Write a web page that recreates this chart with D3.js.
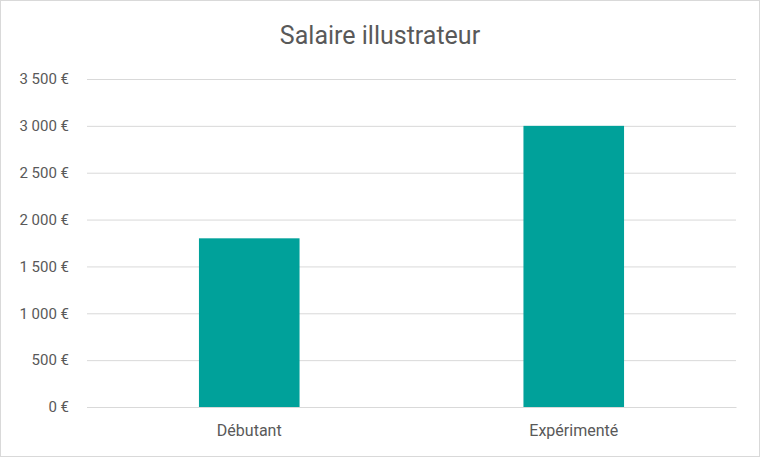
<!DOCTYPE html>
<html>
<head>
<meta charset="utf-8">
<script src="https://cdn.jsdelivr.net/npm/d3@7"></script>
<style>
  body { margin: 0; background: #fff; }
  svg { display: block; font-family: Roboto, "Open Sans", sans-serif; }
</style>
</head>
<body>
<svg id="chart"></svg>
<script>
const categories = ["Débutant", "Expérimenté"];
const salaries = [1800, 3000];
const yTicks = [0, 500, 1000, 1500, 2000, 2500, 3000, 3500];

const W = 760, H = 457;
const margin = {top: 79, right: 24, bottom: 50, left: 87};
const width = W - margin.left - margin.right;
const height = H - margin.top - margin.bottom;

const svg = d3.select("#chart").attr("width", W).attr("height", H);

// chart border
svg.append("rect")
  .attr("x", 0.5).attr("y", 0.5)
  .attr("width", W - 1).attr("height", H - 1)
  .attr("fill", "#fff")
  .attr("stroke", "#d9d9d9");

svg.append("text")
  .attr("x", W / 2).attr("y", 44)
  .attr("text-anchor", "middle")
  .attr("font-size", 25)
  .attr("fill", "#595959")
  .text("Salaire illustrateur");

const g = svg.append("g")
  .attr("transform", `translate(${margin.left},${margin.top})`);

const x = d3.scaleBand()
  .domain(categories)
  .range([0, width])
  .paddingInner(0.69)
  .paddingOuter(0.345);

const y = d3.scaleLinear()
  .domain([0, 3500])
  .range([height, 0]);

const fmt = v => d3.format(",")(v).replace(/,/g, "\u00a0") + " €";

// gridlines + labels
const yAxis = d3.axisLeft(y)
  .tickValues(yTicks)
  .tickSize(-width)
  .tickPadding(18)
  .tickFormat(fmt);

g.append("g")
  .attr("class", "y axis")
  .call(yAxis)
  .call(a => a.select(".domain").remove())
  .call(a => a.selectAll("line").attr("stroke", "#d9d9d9").attr("stroke-width", 1))
  .call(a => a.selectAll("text").attr("font-size", 15).attr("fill", "#595959")
    .style("font-family", "Roboto, 'Open Sans', sans-serif"));

g.selectAll(".bar")
  .data(salaries)
  .enter()
  .append("rect")
  .attr("class", "bar")
  .attr("x", (d, i) => x(categories[i]))
  .attr("y", d => y(d))
  .attr("width", x.bandwidth())
  .attr("height", d => height - y(d))
  .attr("fill", "#00A19A");

const xAxis = d3.axisBottom(x).tickSize(0).tickPadding(18);

g.append("g")
  .attr("class", "x axis")
  .attr("transform", `translate(0,${height})`)
  .call(xAxis)
  .call(a => a.select(".domain").attr("stroke", "#d9d9d9"))
  .call(a => a.selectAll("text").attr("font-size", 16).attr("fill", "#595959")
    .style("font-family", "Roboto, 'Open Sans', sans-serif"));
</script>
</body>
</html>
